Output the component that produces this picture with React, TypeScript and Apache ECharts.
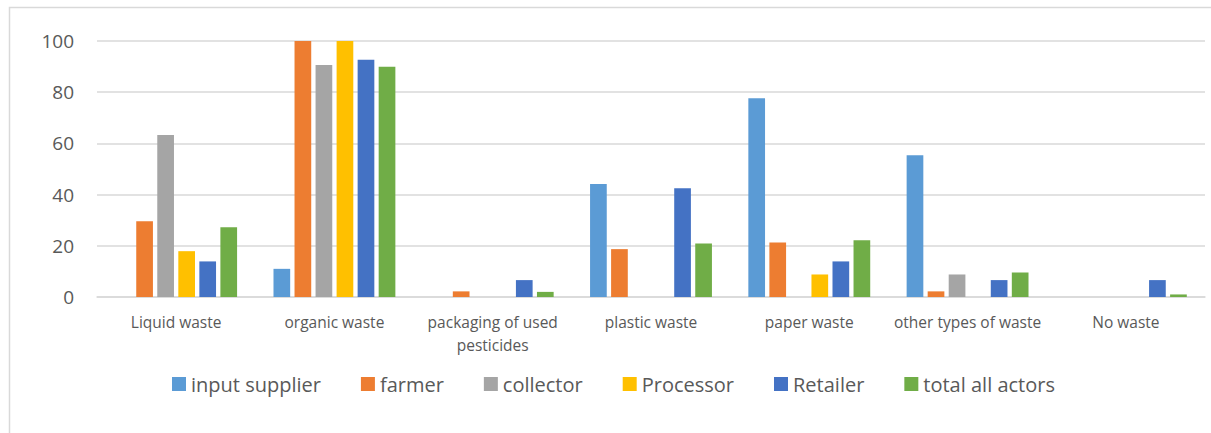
import React, { useEffect, useRef } from "react";
import * as echarts from "echarts";

const categories = [
  "Liquid waste",
  "organic waste",
  "packaging of used\npesticides",
  "plastic waste",
  "paper waste",
  "other types of waste",
  "No waste",
];

const seriesNames = ["input supplier", "farmer", "collector", "Processor", "Retailer", "total all actors"];
const seriesColors = ["#5B9BD5", "#ED7D31", "#A5A5A5", "#FFC000", "#4472C4", "#70AD47"];

const inputSupplier = [0, 11, 0, 44.1, 77.6, 55.4, 0];
const farmer = [29.6, 100, 2.2, 18.7, 21.3, 2.2, 0];
const collector = [63.3, 90.6, 0, 0, 0, 8.8, 0];
const processor = [17.9, 100, 0, 0, 8.8, 0, 0];
const retailer = [13.9, 92.7, 6.6, 42.5, 13.9, 6.6, 6.6];
const totalAllActors = [27.2, 89.9, 2.0, 20.9, 22.2, 9.6, 1.0];

const yTicks = [0, 20, 40, 60, 80, 100];

const seriesData = [inputSupplier, farmer, collector, processor, retailer, totalAllActors];

export default function App() {
  const ref = useRef<HTMLDivElement>(null);

  useEffect(() => {
    if (!ref.current) return;
    const chart = echarts.init(ref.current, null, { renderer: "svg" });
    const font = "Open Sans";
    chart.setOption({
      animation: false,
      textStyle: { fontFamily: font },
      graphic: [
        {
          type: "rect",
          shape: { x: 9.5, y: 7.5, width: 1220, height: 440 },
          style: { fill: "none", stroke: "#d9d9d9", lineWidth: 1.5 },
          silent: true,
        },
      ],
      grid: { left: 97, right: 6, top: 41, bottom: 136 },
      legend: {
        top: 369,
        left: 167,
        data: seriesNames,
        itemWidth: 14,
        itemHeight: 14,
        itemGap: 40,
        icon: "rect",
        textStyle: { fontSize: 20, color: "#595959", fontFamily: font },
      },
      xAxis: {
        type: "category",
        data: categories,
        axisLine: { lineStyle: { color: "#d9d9d9", width: 1.5 } },
        axisTick: { show: false },
        axisLabel: {
          color: "#595959",
          fontSize: 15.5,
          lineHeight: 23,
          margin: 13,
          interval: 0,
          fontFamily: font,
        },
      },
      yAxis: {
        type: "value",
        min: 0,
        max: 100,
        interval: 20,
        axisLine: { show: false },
        axisTick: { show: false },
        splitLine: { lineStyle: { color: "#d9d9d9", width: 1.5 } },
        axisLabel: {
          color: "#595959",
          fontSize: 19,
          margin: 23,
          fontFamily: font,
          formatter: (v: number) => (yTicks.includes(v) ? String(v) : ""),
        },
      },
      series: seriesNames.map((name, i) => ({
        name,
        type: "bar",
        data: seriesData[i],
        barGap: "26%",
        barCategoryGap: "23%",
        itemStyle: { color: seriesColors[i] },
      })),
    });
    return () => chart.dispose();
  }, []);

  return (
    <div
      ref={ref}
      style={{ position: "fixed", left: 0, top: 0, width: 1211, height: 433, background: "#fff" }}
    />
  );
}
